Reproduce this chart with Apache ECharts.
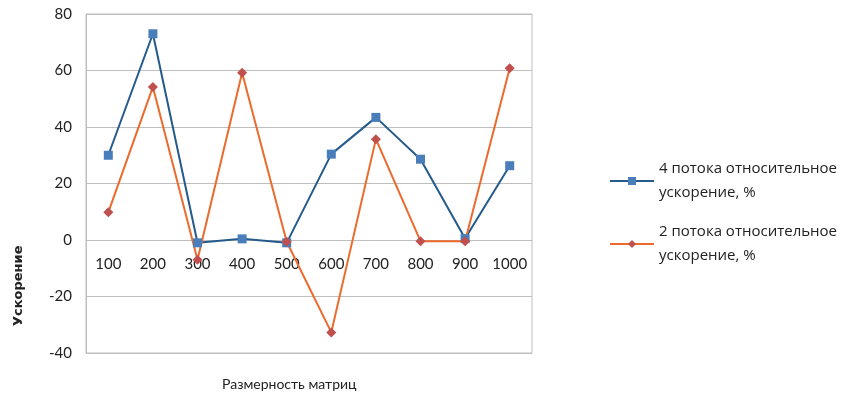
<!DOCTYPE html>
<html>
<head>
<meta charset="utf-8">
<script src="https://cdn.jsdelivr.net/npm/echarts@6/dist/echarts.min.js"></script>
<style>html,body{margin:0;padding:0;background:#fff;}#c{width:842px;height:399px;}</style>
</head>
<body>
<div id="c"></div>
<script>
var categories = ['100','200','300','400','500','600','700','800','900','1000'];
var threads4 = [30, 73, -1, 0.4, -1, 30.4, 43.4, 28.6, 0.5, 26.3];
var threads2 = [9.8, 54.2, -7, 59.2, -0.6, -32.7, 35.7, -0.4, -0.4, 60.8];
var seriesNames = ['4 потока относительное\nускорение, %', '2 потока относительное\nускорение, %'];
var xTitle = 'Размерность матриц';
var yTitle = 'Ускорение';

var chart = echarts.init(document.getElementById('c'), null, {renderer: 'canvas'});
var tickFont = 'Lato, sans-serif';
var legendText = {
  fontFamily: 'Open Sans, sans-serif', fontSize: 15, color: '#222',
  lineHeight: 24, padding: [24, 0, 0, 0]
};
chart.setOption({
  animation: false,
  backgroundColor: '#fff',
  grid: {left: 86, right: 310, top: 14, bottom: 46, show: true, borderColor: '#bfbfbf', borderWidth: 1, backgroundColor: 'transparent'},
  legend: [
    {data: [seriesNames[0]], orient: 'vertical', left: 604, top: 140, itemWidth: 44, itemHeight: 10, textStyle: legendText},
    {data: [seriesNames[1]], orient: 'vertical', left: 604, top: 203, itemWidth: 44, itemHeight: 10, textStyle: legendText}
  ],
  xAxis: {
    type: 'category', data: categories, boundaryGap: true, offset: -113,
    axisLine: {onZero: false, lineStyle: {color: '#bfbfbf', width: 1}},
    axisTick: {show: false},
    axisLabel: {fontFamily: tickFont, fontSize: 15, color: '#222', margin: 17, interval: 0}
  },
  yAxis: {
    type: 'value', min: -40, max: 80, interval: 20,
    axisLine: {show: true, lineStyle: {color: '#bfbfbf', width: 1}},
    axisTick: {show: false},
    axisLabel: {fontFamily: tickFont, fontSize: 15, color: '#222', margin: 14},
    splitLine: {lineStyle: {color: '#bfbfbf', width: 1}}
  },
  graphic: [
    {type: 'text', left: 222, top: 377, style: {text: xTitle, font: '14px Lato, sans-serif', fill: '#222'}},
    {type: 'text', x: 12, y: 326, rotation: Math.PI / 2, style: {text: yTitle, font: 'bold 13px DejaVu Sans, sans-serif', fill: '#222'}}
  ],
  series: [
    {name: seriesNames[0], type: 'line', data: threads4, symbol: 'rect', symbolSize: 9,
     lineStyle: {color: '#245a8c', width: 2}, itemStyle: {color: '#4a7ebb', borderWidth: 0}},
    {name: seriesNames[1], type: 'line', data: threads2, symbol: 'diamond', symbolSize: 10,
     lineStyle: {color: '#ec6a2c', width: 2}, itemStyle: {color: '#c0504d', borderWidth: 0}}
  ]
});
</script>
</body>
</html>
